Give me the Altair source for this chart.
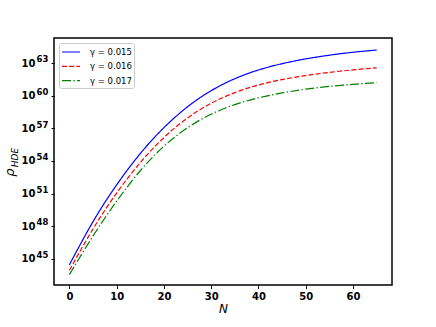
import altair as alt
import pandas as pd

N_vals = [0, 5, 10, 15, 20, 25, 30, 35, 40, 45, 50, 55, 60, 65]
log_rho_015 = [44.45, 48.42, 51.8, 54.68, 57.06, 58.98, 60.46, 61.56, 62.36, 62.94, 63.38, 63.72, 63.99, 64.19]
log_rho_016 = [43.95, 47.75, 51.05, 53.85, 56.15, 57.95, 59.3, 60.28, 60.98, 61.48, 61.85, 62.14, 62.37, 62.56]
log_rho_017 = [43.55, 47.1, 50.3, 53.1, 55.35, 57.05, 58.3, 59.18, 59.8, 60.25, 60.6, 60.85, 61.04, 61.2]
series_labels = ["γ = 0.015", "γ = 0.016", "γ = 0.017"]
x_ticks = [0, 10, 20, 30, 40, 50, 60]
y_tick_exps = [45, 48, 51, 54, 57, 60, 63]

rows = []
for lab, arr in zip(series_labels, [log_rho_015, log_rho_016, log_rho_017]):
    for n, e in zip(N_vals, arr):
        rows.append({"N": n, "rho": 10.0 ** e, "g": lab})
df = pd.DataFrame(rows)
exp_df = pd.DataFrame({"rho": [10.0 ** e for e in y_tick_exps], "exp": [str(e) for e in y_tick_exps]})

W, H = 338, 247
PL, PT = 54, 38
yscale = alt.Scale(type="log", domain=[10 ** 42.6, 10 ** 65.3], nice=False)
yaxis = alt.Axis(values=[10.0 ** e for e in y_tick_exps], title=None, grid=False,
                 tickSize=3, tickColor="black", domain=False,
                 labelExpr="'10'",
                 labelFont="DejaVu Sans", labelFontWeight="bold", labelFontSize=10,
                 labelColor="black", labelPadding=16)

lines = alt.Chart(df).mark_line(strokeWidth=1.2, interpolate="natural").encode(
    x=alt.X("N:Q", scale=alt.Scale(domain=[-3.25, 68.25], nice=False, zero=False),
            axis=alt.Axis(values=x_ticks, title="N", grid=False, tickSize=3.5, tickColor="black",
                          labelFont="DejaVu Sans", labelFontWeight="bold", labelFontSize=10,
                          labelColor="black", labelPadding=3, domain=False,
                          titleFont="DejaVu Sans", titleFontStyle="italic", titleFontWeight="normal",
                          titleFontSize=12, titleColor="black", titlePadding=2)),
    y=alt.Y("rho:Q", scale=yscale, axis=yaxis),
    color=alt.Color("g:N", scale=alt.Scale(domain=series_labels, range=["#0000ff", "#ff0000", "#008000"]),
                    legend=alt.Legend(title=None, orient="none", legendX=5, legendY=5,
                                      symbolType="M-1,0H2", symbolSize=144, symbolStrokeWidth=1.2,
                                      labelFont="DejaVu Sans", labelFontSize=8.5, labelColor="black",
                                      labelOffset=15, rowPadding=2.3, padding=2,
                                      strokeColor="#cccccc", fillColor="white", cornerRadius=2)),
    strokeDash=alt.StrokeDash("g:N", scale=alt.Scale(domain=series_labels,
                                                      range=[[1, 0], [5, 2.2], [9, 2.3, 1.4, 2.3]]),
                              legend=None),
)

exps = alt.Chart(exp_df).mark_text(
    align="right", baseline="middle", dy=-3.8, font="DejaVu Sans", fontWeight="bold",
    fontSize=8.5, color="black").encode(
    x=alt.value(-5.6), y=alt.Y("rho:Q", scale=yscale, axis=yaxis), text="exp:N")

rho_title = alt.Chart(pd.DataFrame({"t": ["ρ"]})).mark_text(
    angle=270, align="center", baseline="alphabetic", font="DejaVu Sans",
    fontStyle="italic", fontSize=13, color="black").encode(
    x=alt.value(-40.5), y=alt.value(134.5), text="t:N")
hde_title = alt.Chart(pd.DataFrame({"t": ["HDE"]})).mark_text(
    angle=270, align="center", baseline="alphabetic", font="DejaVu Sans",
    fontStyle="italic", fontSize=9, color="black").encode(
    x=alt.value(-36.5), y=alt.value(119.5), text="t:N")

chart = alt.layer(lines, exps, rho_title, hde_title).properties(
    width=W, height=H,
    background="white",
    autosize=alt.AutoSizeParams(type="none"),
    padding={"left": PL, "top": PT, "right": 436 - PL - W, "bottom": 327 - PT - H},
).configure_view(stroke="black", strokeWidth=1.5)

chart.save("out.html", embed_options={"renderer": "svg", "actions": False})
